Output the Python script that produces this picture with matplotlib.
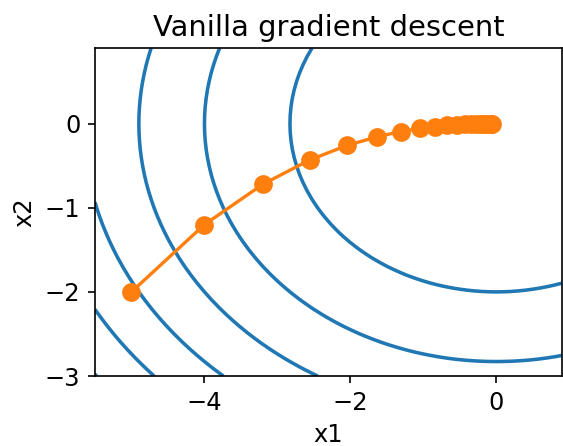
import numpy as np
import matplotlib
matplotlib.use("Agg")
import matplotlib.pyplot as plt

# trajectory of the iterates
traj_x1 = [-5.0, -4.0, -3.2, -2.56, -2.048, -1.638, -1.311, -1.049, -0.839, -0.671,
           -0.537, -0.429, -0.344, -0.275, -0.220, -0.176, -0.141, -0.113, -0.090, -0.072, -0.058]
traj_x2 = [-2.0, -1.2, -0.72, -0.432, -0.259, -0.156, -0.093, -0.056, -0.034, -0.020,
           -0.012, -0.007, -0.004, -0.003, -0.002, -0.001, -0.001, 0.0, 0.0, 0.0, 0.0]

# contour levels of f(x1, x2) = x1^2 + 2 x2^2
levels = [8, 16, 24, 32, 40, 48]

plt.rcParams['font.size'] = 11.6
plt.rcParams['lines.linewidth'] = 1.6
plt.rcParams['lines.markersize'] = 8

fig = plt.figure(figsize=(563 / 150, 446 / 150), dpi=150)
ax = fig.add_axes([95 / 563, 70 / 446, 467 / 563, 328 / 446])

g1, g2 = np.meshgrid(np.arange(-5.5, 1.0, 0.1), np.arange(-3.0, 1.0, 0.1))
ax.contour(g1, g2, g1 ** 2 + 2 * g2 ** 2, levels=levels, colors='#1f77b4', linewidths=1.7)
ax.plot(traj_x1, traj_x2, '-o', color='#ff7f0e')

ax.set_xlim(-5.5, 0.9)
ax.set_ylim(-3.0, 0.9)
ax.set_xticks([-4, -2, 0])
ax.set_yticks([-3, -2, -1, 0])
ax.set_xlabel('x1')
ax.set_ylabel('x2')
ax.set_title('Vanilla gradient descent')
fig.savefig('out.png', dpi=150)
